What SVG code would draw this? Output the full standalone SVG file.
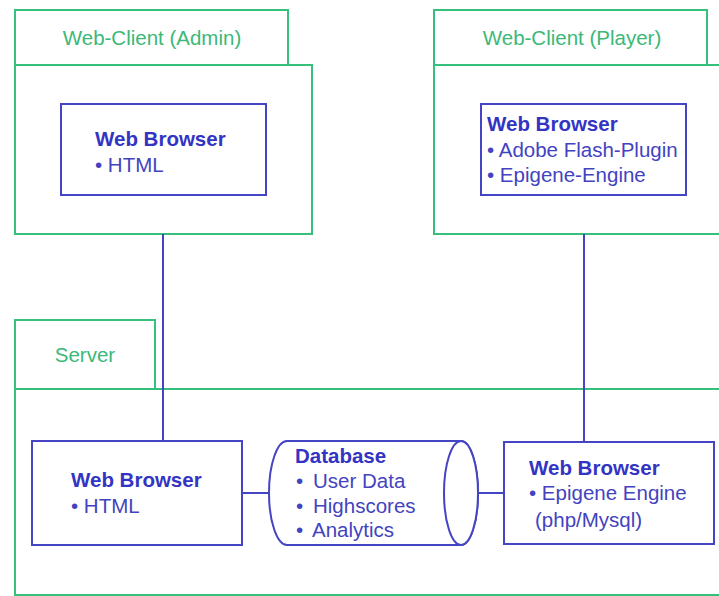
<svg xmlns="http://www.w3.org/2000/svg" width="719" height="596" viewBox="0 0 719 596">
<style>
.pkg{fill:#fff;stroke:#35c07c;stroke-width:2}
.pkgt{font-family:"Liberation Sans",Arial,sans-serif;font-size:20.5px;fill:#3cb878;text-anchor:middle}
.box{fill:#fff;stroke:#4444c4;stroke-width:2}
.ttl{font-family:"Liberation Sans",Arial,sans-serif;font-size:20.5px;font-weight:bold;fill:#3434c4}
.txt{font-family:"Liberation Sans",Arial,sans-serif;font-size:20.5px;fill:#4343c0}
.con{stroke:#4444c4;stroke-width:2;fill:none}
</style>
<rect width="719" height="596" fill="#fff"/>
<g id="admin">
<rect class="pkg" x="15" y="10" width="273" height="55"/>
<rect class="pkg" x="15" y="65" width="297" height="169"/>
<text class="pkgt" x="152" y="45">Web-Client (Admin)</text>
</g>
<g id="player">
<rect class="pkg" x="434" y="10" width="273" height="55"/>
<rect class="pkg" x="434" y="65" width="300" height="169"/>
<text class="pkgt" x="572" y="45">Web-Client (Player)</text>
</g>
<g id="server">
<rect class="pkg" x="15" y="320" width="140" height="69"/>
<rect class="pkg" x="15" y="389" width="720" height="206"/>
<text class="pkgt" x="85" y="362">Server</text>
</g>
<g id="connectors">
<line class="con" x1="163" y1="234" x2="163" y2="441"/>
<line class="con" x1="584" y1="234" x2="584" y2="442"/>
<line class="con" x1="242" y1="493" x2="270" y2="493"/>
<line class="con" x1="478" y1="493" x2="504" y2="493"/>
</g>
<g id="admin-browser">
<rect class="box" x="61" y="104" width="205" height="91"/>
<text class="ttl" x="95" y="146">Web Browser</text>
<text class="txt" x="95" y="172">• HTML</text>
</g>
<g id="player-browser">
<rect class="box" x="481" y="104" width="205" height="91"/>
<text class="ttl" x="487" y="131">Web Browser</text>
<text class="txt" x="487" y="157">• Adobe Flash-Plugin</text>
<text class="txt" x="487" y="182">• Epigene-Engine</text>
</g>
<g id="server-browser">
<rect class="box" x="32" y="441" width="210" height="104"/>
<text class="ttl" x="71" y="487">Web Browser</text>
<text class="txt" x="71" y="513">• HTML</text>
</g>
<g id="database">
<path class="box" d="M287 441 H461 A17 52 0 0 1 461 545 H287 A18 52 0 0 1 287 441 Z"/>
<ellipse class="box" cx="461" cy="493" rx="17" ry="52"/>
<text class="ttl" x="295" y="463">Database</text>
<text class="txt" y="488"><tspan x="296">•</tspan><tspan x="313">User Data</tspan></text>
<text class="txt" y="513"><tspan x="296">•</tspan><tspan x="313">Highscores</tspan></text>
<text class="txt" y="537"><tspan x="296">•</tspan><tspan x="312">Analytics</tspan></text>
</g>
<g id="server-engine">
<rect class="box" x="504" y="442" width="210" height="102"/>
<text class="ttl" x="529" y="475">Web Browser</text>
<text class="txt" x="529" y="500">• Epigene Engine</text>
<text class="txt" x="535" y="527">(php/Mysql)</text>
</g>
</svg>
